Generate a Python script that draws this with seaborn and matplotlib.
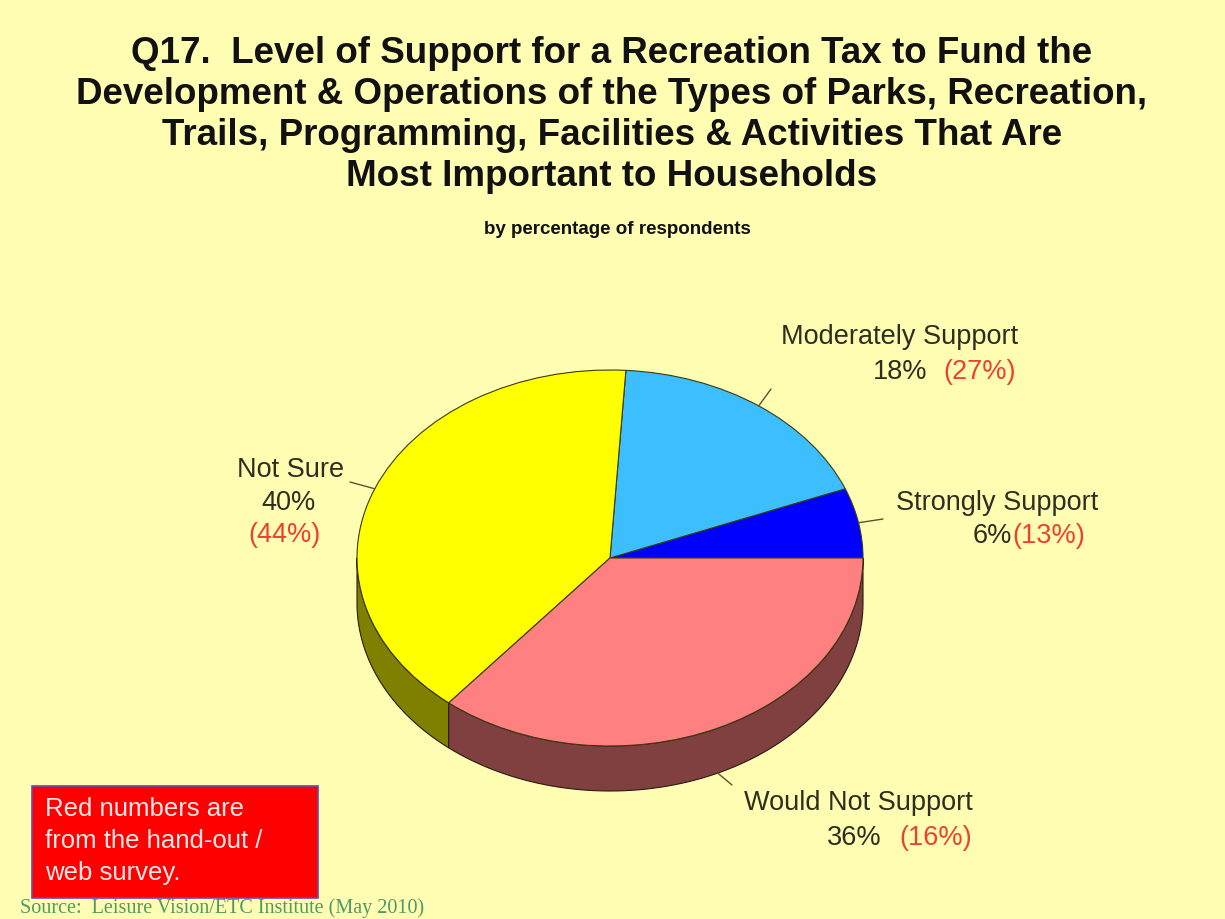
import numpy as np
import seaborn as sns
import matplotlib.pyplot as plt
from matplotlib.transforms import Affine2D
from matplotlib.patches import Polygon, Rectangle
import matplotlib.colors as mcolors

# data
labels = ["Strongly Support", "Moderately Support", "Not Sure", "Would Not Support"]
phone_pct = [6, 18, 40, 36]
web_pct = [13, 27, 44, 16]
colors = ["#0000FF", "#3DBEFF", "#FFFF00", "#FF8080"]

W, H = 1225, 919
BG = "#FFFDB2"
TXT = "#2E2E1E"
RED = "#EE4030"

sns.set_theme(style="white", rc={"figure.facecolor": BG, "axes.facecolor": BG})
plt.rcParams["font.family"] = ["Liberation Sans", "DejaVu Sans"]

fig = plt.figure(figsize=(W / 100, H / 100), dpi=100)
ax = fig.add_axes([0, 0, 1, 1])

def Y(y):
    # layout positions are read top-down from the picture
    return H - y

# pie geometry (pixels)
cx, cy = 610, Y(558)
rx, ry = 253, 188
depth = 45

# top surface
wedges, _ = ax.pie(phone_pct, colors=colors, startangle=0, counterclock=True,
                   center=(cx, cy), radius=rx,
                   wedgeprops=dict(edgecolor="#3A3A10", linewidth=0.8))
squash = Affine2D().translate(-cx, -cy).scale(1, ry / rx).translate(cx, cy) + ax.transData
for w in wedges:
    w.set_transform(squash)
    w.set_zorder(3)

# side walls, drawn for the front half of the pie
bounds = np.concatenate([[0], np.cumsum(phone_pct)]) / sum(phone_pct) * 360
for a0, a1, col in zip(bounds[:-1], bounds[1:], colors):
    lo, hi = max(a0, 180), min(a1, 360)
    if hi <= lo:
        continue
    t = np.radians(np.linspace(lo, hi, 80))
    top = np.column_stack([cx + rx * np.cos(t), cy + ry * np.sin(t)])
    bot = top[::-1] - [0, depth]
    dark = tuple(c * 0.5 for c in mcolors.to_rgb(col))
    ax.add_patch(Polygon(np.vstack([top, bot]), closed=True, facecolor=dark,
                         edgecolor="#2A1A10", linewidth=0.8, zorder=2))

ax.set_aspect("auto")
ax.set_xlim(0, W)
ax.set_ylim(0, H)
ax.axis("off")

# leader lines from the slice middle
mids = (bounds[:-1] + bounds[1:]) / 2
ends = {0: (883, 519), 1: (771, 389), 2: (350, 482), 3: (732, 785)}
for i, m in enumerate(mids):
    t = np.radians(m)
    x0, y0 = cx + rx * np.cos(t), cy + ry * np.sin(t)
    if np.sin(t) < 0:
        y0 -= depth
    ex, ey = ends[i]
    ax.plot([x0, ex], [y0, Y(ey)], color="#555533", lw=1, zorder=4)

# slice labels
fs = 19.5
ax.text(997, Y(503), labels[0], ha="center", va="center", fontsize=fs, color=TXT)
ax.text(1012, Y(536), f"{phone_pct[0]}%", ha="right", va="center", fontsize=fs, color=TXT)
ax.text(1012, Y(536), f"({web_pct[0]}%)", ha="left", va="center", fontsize=fs, color=RED)

ax.text(900, Y(337), labels[1], ha="center", va="center", fontsize=fs, color=TXT)
ax.text(927, Y(372), f"{phone_pct[1]}%", ha="right", va="center", fontsize=fs, color=TXT)
ax.text(943, Y(372), f"({web_pct[1]}%)", ha="left", va="center", fontsize=fs, color=RED)

ax.text(291, Y(470), labels[2], ha="center", va="center", fontsize=fs, color=TXT)
ax.text(289, Y(503), f"{phone_pct[2]}%", ha="center", va="center", fontsize=fs, color=TXT)
ax.text(284, Y(535), f"({web_pct[2]}%)", ha="center", va="center", fontsize=fs, color=RED)

ax.text(858, Y(803), labels[3], ha="center", va="center", fontsize=fs, color=TXT)
ax.text(882, Y(838), f"{phone_pct[3]}%", ha="right", va="center", fontsize=fs, color=TXT)
ax.text(899, Y(838), f"({web_pct[3]}%)", ha="left", va="center", fontsize=fs, color=RED)

# titles
title = ("Q17.  Level of Support for a Recreation Tax to Fund the\n"
         "Development & Operations of the Types of Parks, Recreation,\n"
         "Trails, Programming, Facilities & Activities That Are\n"
         "Most Important to Households")
ax.text(612, Y(115), title, ha="center", va="center", fontsize=26.5,
        fontweight="bold", color="#111111", linespacing=1.23)
ax.text(617, Y(230), "by percentage of respondents", ha="center", va="center",
        fontsize=13.5, fontweight="bold", color="#111111")

# note box
ax.add_patch(Rectangle((32, Y(898)), 286, 112, facecolor="#FF0000",
                       edgecolor="#6A4AB0", linewidth=1.2, zorder=5))
ax.text(45, Y(841), "Red numbers are\nfrom the hand-out /\nweb survey.", ha="left",
        va="center", fontsize=18.5, color="#FFE8E8", linespacing=1.4, zorder=6)

ax.text(20, Y(908), "Source:  Leisure Vision/ETC Institute (May 2010)", ha="left",
        va="center", fontsize=14.5, color="#4E9A66", family=["Liberation Serif", "DejaVu Serif"])

fig.savefig("out.png", dpi=100, facecolor=BG)
